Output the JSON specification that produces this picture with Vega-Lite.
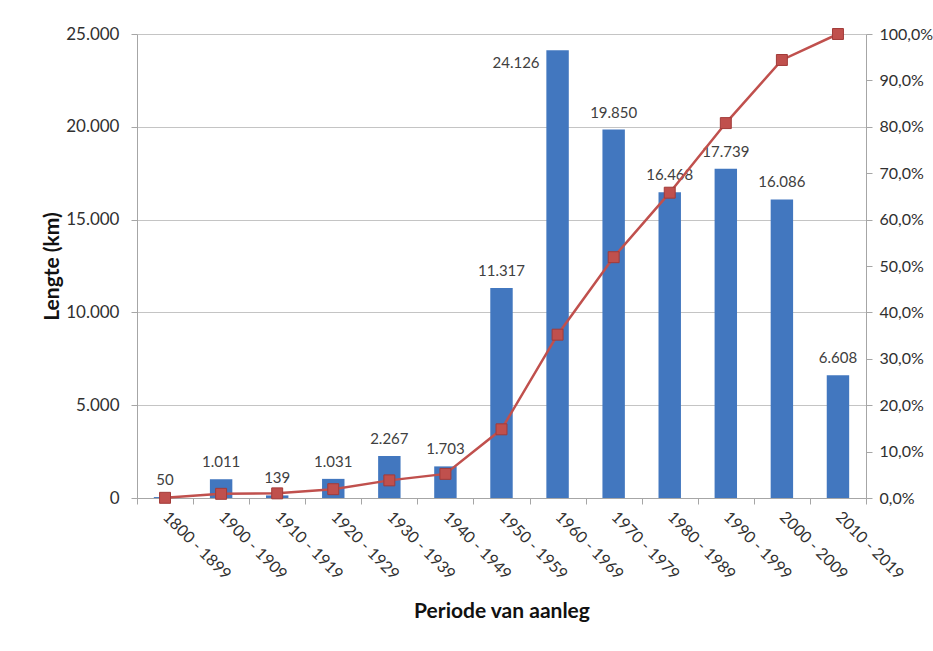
{
  "$schema": "https://vega.github.io/schema/vega-lite/v6.json",
  "width": 729,
  "height": 464,
  "autosize": {"type": "none"},
  "padding": {"left": 137, "top": 34, "right": 67, "bottom": 153},
  "background": "white",
  "config": {
    "locale": {
      "number": {"decimal": ",", "thousands": ".", "grouping": [3], "currency": ["€ ", ""]}
    },
    "font": "Lato",
    "view": {"stroke": null},
    "axis": {
      "labelFont": "Lato",
      "labelFontSize": 16,
      "labelColor": "#303030",
      "labelOverlap": false,
      "titleFont": "Lato",
      "titleFontSize": 21,
      "titleFontWeight": "bold",
      "titleColor": "#111111",
      "domainColor": "#a6a6a6",
      "tickColor": "#a6a6a6",
      "gridColor": "#c4c4c4",
      "tickSize": 6
    }
  },
  "data": {
    "values": [
      {"periode": "1800 - 1899", "km": 50, "cumulatief": 0.0004},
      {"periode": "1900 - 1909", "km": 1011, "cumulatief": 0.009},
      {"periode": "1910 - 1919", "km": 139, "cumulatief": 0.010},
      {"periode": "1920 - 1929", "km": 1031, "cumulatief": 0.019},
      {"periode": "1930 - 1939", "km": 2267, "cumulatief": 0.038},
      {"periode": "1940 - 1949", "km": 1703, "cumulatief": 0.052},
      {"periode": "1950 - 1959", "km": 11317, "cumulatief": 0.148},
      {"periode": "1960 - 1969", "km": 24126, "cumulatief": 0.352},
      {"periode": "1970 - 1979", "km": 19850, "cumulatief": 0.519},
      {"periode": "1980 - 1989", "km": 16468, "cumulatief": 0.658},
      {"periode": "1990 - 1999", "km": 17739, "cumulatief": 0.808},
      {"periode": "2000 - 2009", "km": 16086, "cumulatief": 0.944},
      {"periode": "2010 - 2019", "km": 6608, "cumulatief": 1.0}
    ]
  },
  "encoding": {
    "x": {
      "field": "periode",
      "type": "ordinal",
      "sort": null,
      "scale": {"paddingInner": 0, "paddingOuter": 0},
      "axis": {
        "title": "Periode van aanleg",
        "labelAngle": 45,
        "labelAlign": "left",
        "labelBaseline": "middle",
        "labelPadding": 10,
        "tickBand": "extent",
        "titleY": 113,
        "titleBaseline": "middle",
        "grid": false
      }
    }
  },
  "layer": [
    {
      "encoding": {
        "y": {
          "field": "km",
          "type": "quantitative",
          "scale": {"domain": [0, 25000], "nice": false},
          "axis": {
            "title": "Lengte (km)",
            "format": ",d",
            "values": [0, 5000, 10000, 15000, 20000, 25000],
            "labelFontSize": 17,
            "labelPadding": 12,
            "titleX": -85,
            "titleY": 232,
            "titleBaseline": "middle",
            "grid": true
          }
        }
      },
      "layer": [
        {
          "mark": {"type": "bar", "color": "#4277bf", "width": {"band": 0.4}}
        },
        {
          "transform": [{"filter": "datum.periode != '1960 - 1969'"}],
          "mark": {"type": "text", "fontSize": 15, "color": "#404040", "baseline": "middle", "dy": -17},
          "encoding": {"text": {"field": "km", "type": "quantitative", "format": ",d"}}
        },
        {
          "transform": [{"filter": "datum.periode == '1960 - 1969'"}],
          "mark": {"type": "text", "fontSize": 15, "color": "#404040", "baseline": "middle", "align": "right", "dx": -18, "dy": 13},
          "encoding": {"text": {"field": "km", "type": "quantitative", "format": ",d"}}
        }
      ]
    },
    {
      "mark": {
        "type": "line",
        "color": "#c0504d",
        "strokeWidth": 2.5,
        "point": {"shape": "square", "size": 120, "filled": true, "fill": "#c0504d", "stroke": "#a23b39", "strokeWidth": 1}
      },
      "encoding": {
        "y": {
          "field": "cumulatief",
          "type": "quantitative",
          "scale": {"domain": [0, 1], "nice": false},
          "axis": {
            "title": null,
            "orient": "right",
            "format": ".1%",
            "values": [0, 0.1, 0.2, 0.3, 0.4, 0.5, 0.6, 0.7, 0.8, 0.9, 1.0],
            "labelPadding": 7,
            "grid": false
          }
        }
      }
    }
  ],
  "resolve": {"scale": {"y": "independent"}}
}
